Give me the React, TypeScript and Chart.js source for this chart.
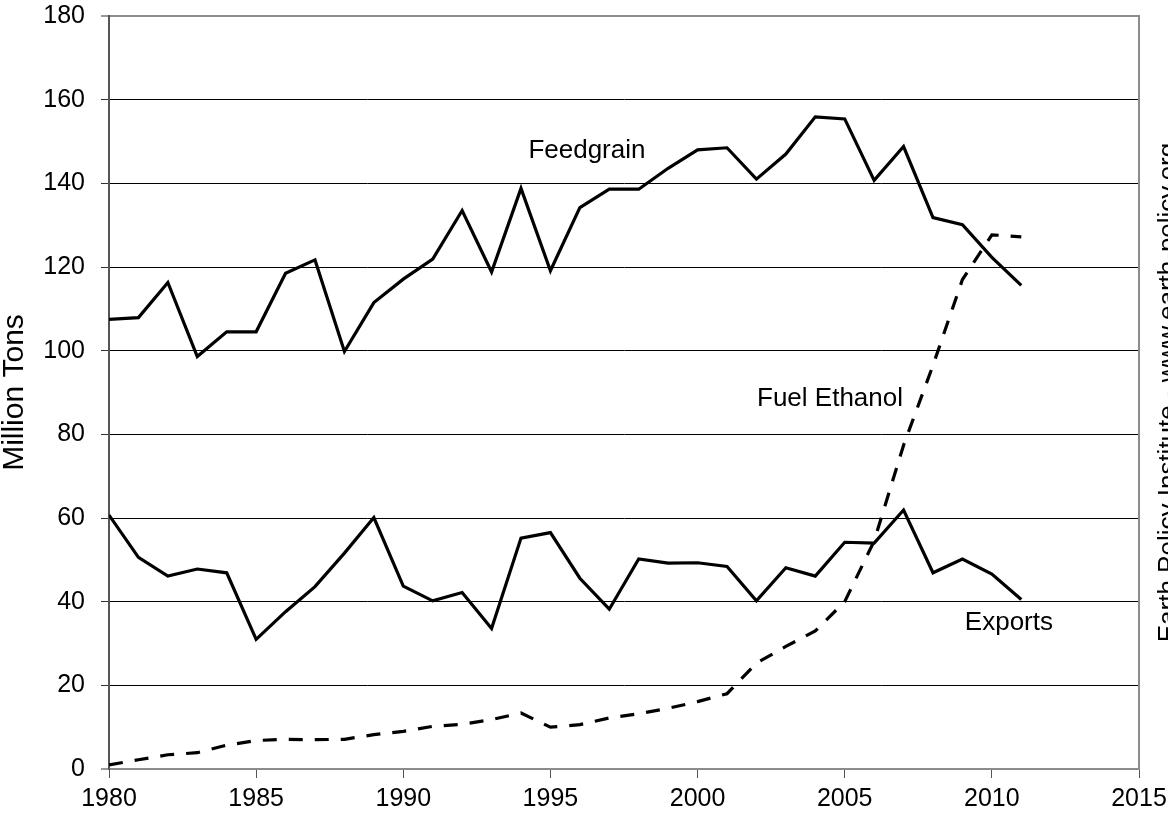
import React, { useEffect, useRef } from "react";
import { Chart, registerables } from "chart.js";

Chart.register(...registerables);

const years = [
  1980, 1981, 1982, 1983, 1984, 1985, 1986, 1987, 1988, 1989, 1990, 1991, 1992, 1993, 1994, 1995,
  1996, 1997, 1998, 1999, 2000, 2001, 2002, 2003, 2004, 2005, 2006, 2007, 2008, 2009, 2010, 2011,
];

const feedgrain = [
  107.5, 107.9, 116.3, 98.6, 104.5, 104.5, 118.5, 121.7, 99.8, 111.5, 117.1, 121.9, 133.5, 118.8,
  138.8, 119.1, 134.2, 138.6, 138.6, 143.6, 148.0, 148.5, 141.0, 147.0, 155.9, 155.4, 140.7, 148.8,
  131.8, 130.1, 122.3, 115.6,
];

const exportsData = [
  60.7, 50.6, 46.1, 47.8, 46.9, 31.0, 37.6, 43.6, 51.6, 60.1, 43.7, 40.2, 42.2, 33.6, 55.2, 56.5,
  45.6, 38.2, 50.2, 49.2, 49.3, 48.4, 40.2, 48.1, 46.1, 54.2, 54.0, 61.9, 46.9, 50.2, 46.6, 40.5,
];

const fuelEthanol = [
  1.0, 2.2, 3.4, 3.9, 5.7, 6.8, 7.1, 7.0, 7.1, 8.2, 9.0, 10.2, 10.7, 11.8, 13.4, 10.0, 10.6, 12.2,
  13.2, 14.5, 16.1, 18.0, 25.3, 29.3, 33.0, 40.0, 54.5, 77.4, 96.5, 117.0, 127.7, 127.2,
];

const xTicks = [1980, 1985, 1990, 1995, 2000, 2005, 2010, 2015];
const yTicks = [0, 20, 40, 60, 80, 100, 120, 140, 160, 180];

const seriesLabels = ["Feedgrain", "Fuel Ethanol", "Exports"];
const labelX = [1996.24, 2004.5, 2010.58];
const labelY = [147.7, 88.4, 34.9];

const yTitle = "Million Tons";
const sourceText = "Earth Policy Institute - www.earth-policy.org";

const FONT = "'Liberation Sans', Arial, sans-serif";

function toPoints(values: number[]) {
  return years.map((y, i) => ({ x: y, y: values[i] }));
}

const annotationPlugin = {
  id: "annotations",
  afterDraw(chart: any) {
    const { ctx, chartArea, scales } = chart;
    ctx.save();
    // right border of plot frame
    ctx.strokeStyle = "#8c8c8c";
    ctx.lineWidth = 2;
    ctx.beginPath();
    ctx.moveTo(chartArea.right, chartArea.top - 1);
    ctx.lineTo(chartArea.right, chartArea.bottom);
    ctx.stroke();

    // series labels
    ctx.fillStyle = "#000";
    ctx.font = `26px ${FONT}`;
    ctx.textAlign = "center";
    ctx.textBaseline = "middle";
    seriesLabels.forEach((t, i) => {
      ctx.fillText(t, scales.x.getPixelForValue(labelX[i]), scales.y.getPixelForValue(labelY[i]));
    });

    // vertical source text on the right edge
    ctx.translate(chart.width + 8, (chartArea.top + chartArea.bottom) / 2);
    ctx.rotate(-Math.PI / 2);
    ctx.font = `26px ${FONT}`;
    ctx.textAlign = "center";
    ctx.textBaseline = "alphabetic";
    ctx.fillText(sourceText, 0, 0);
    ctx.restore();
  },
};

export default function App() {
  const ref = useRef<HTMLCanvasElement | null>(null);

  useEffect(() => {
    if (!ref.current) return;
    const lineBase = {
      borderColor: "#000",
      borderWidth: 3.2,
      pointRadius: 0,
      tension: 0,
      fill: false,
    };
    const chart = new Chart(ref.current, {
      type: "line",
      data: {
        datasets: [
          { ...lineBase, label: "Feedgrain", data: toPoints(feedgrain) },
          { ...lineBase, label: "Exports", data: toPoints(exportsData) },
          {
            ...lineBase,
            label: "Fuel Ethanol",
            data: toPoints(fuelEthanol),
            borderDash: [14, 12],
          },
        ],
      },
      options: {
        animation: false,
        responsive: false,
        maintainAspectRatio: false,
        layout: { padding: { top: 16, right: 29, left: 0, bottom: 0 } },
        plugins: {
          legend: { display: false },
          tooltip: { enabled: false },
          title: { display: false },
        },
        scales: {
          x: {
            type: "linear",
            min: 1980,
            max: 2015,
            afterBuildTicks: (scale: any) => {
              scale.ticks = xTicks.map((v) => ({ value: v }));
            },
            afterFit: (scale: any) => {
              scale.height = 50;
              scale.paddingLeft = 0;
              scale.paddingRight = 0;
            },
            ticks: {
              color: "#000",
              font: { family: FONT, size: 25 },
              padding: 6,
              maxRotation: 0,
              autoSkip: false,
              callback: (v: any) => String(v),
            },
            grid: {
              drawOnChartArea: false,
              drawTicks: true,
              tickLength: 9,
              tickColor: "#555",
              tickWidth: 1,
            },
            border: { display: true, color: "#8c8c8c", width: 2 },
          },
          y: {
            type: "linear",
            min: 0,
            max: 180,
            afterBuildTicks: (scale: any) => {
              scale.ticks = yTicks.map((v) => ({ value: v }));
            },
            afterFit: (scale: any) => {
              scale.width = 109;
              scale.paddingTop = 0;
              scale.paddingBottom = 0;
            },
            ticks: {
              color: "#000",
              font: { family: FONT, size: 25 },
              padding: 16,
              autoSkip: false,
            },
            grid: {
              color: (c: any) => (c.tick && (c.tick.value === 180 || c.tick.value === 0) ? "#8c8c8c" : "#000"),
              lineWidth: (c: any) => (c.tick && (c.tick.value === 180 || c.tick.value === 0) ? 2 : 1),
              drawTicks: true,
              tickLength: 8,
              tickColor: "#333",
              tickWidth: 1,
            },
            border: { display: true, color: "#555", width: 2 },
            title: {
              display: true,
              text: yTitle,
              color: "#000",
              font: { family: FONT, size: 30, lineHeight: 1 },
              padding: 0,
            },
          },
        },
      },
      plugins: [annotationPlugin],
    });
    return () => chart.destroy();
  }, []);

  return (
    <div style={{ position: "absolute", left: 0, top: 0, width: 1168, height: 819, background: "#fff" }}>
      <canvas ref={ref} width={1168} height={819} style={{ display: "block" }} />
    </div>
  );
}
